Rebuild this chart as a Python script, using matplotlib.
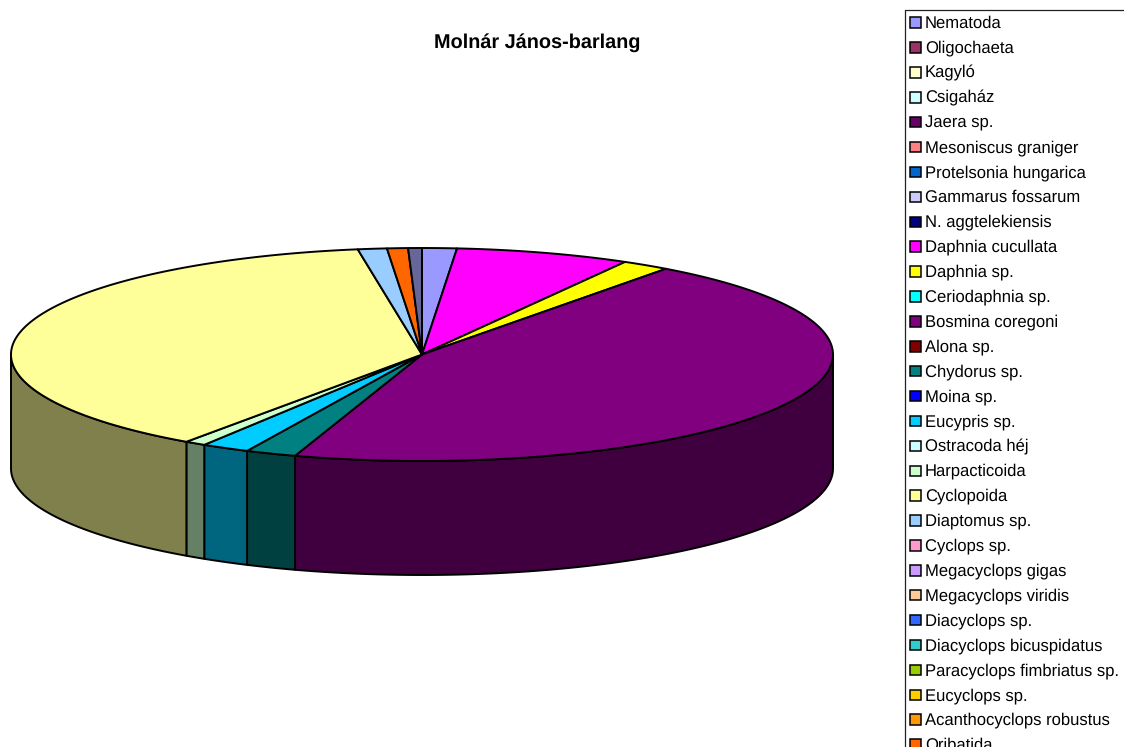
import numpy as np
import matplotlib
matplotlib.use('Agg')
import matplotlib.pyplot as plt
from matplotlib.patches import Rectangle

plt.rcParams['font.family'] = ['Liberation Sans', 'DejaVu Sans']
plt.rcParams['text.hinting'] = 'no_hinting'

names = ['Nematoda', 'Oligochaeta', 'Kagyló', 'Csigaház', 'Jaera sp.',
         'Mesoniscus graniger', 'Protelsonia hungarica', 'Gammarus fossarum',
         'N. aggtelekiensis', 'Daphnia cucullata', 'Daphnia sp.',
         'Ceriodaphnia sp.', 'Bosmina coregoni', 'Alona sp.', 'Chydorus sp.',
         'Moina sp.', 'Eucypris sp.', 'Ostracoda héj', 'Harpacticoida',
         'Cyclopoida', 'Diaptomus sp.', 'Cyclops sp.', 'Megacyclops gigas',
         'Megacyclops viridis', 'Diacyclops sp.', 'Diacyclops bicuspidatus',
         'Paracyclops fimbriatus sp.', 'Eucyclops sp.', 'Acanthocyclops robustus',
         'Oribatida', '']
values = [1.36, 0, 0, 0, 0,
          0, 0, 0,
          0, 6.87, 1.89,
          0, 44.9, 0, 2.0,
          0, 1.89, 0, 0.83,
          37.8, 1.14, 0, 0,
          0, 0, 0,
          0, 0, 0,
          0.82, 0.54]
colors = ['#9999FF', '#993366', '#FFFFCC', '#CCFFFF', '#660066',
          '#FF8080', '#0066CC', '#CCCCFF', '#000080', '#FF00FF', '#FFFF00',
          '#00FFFF', '#800080', '#800000', '#008080', '#0000FF', '#00CCFF',
          '#CCFFFF', '#CCFFCC', '#FFFF99', '#99CCFF', '#FF99CC', '#CC99FF',
          '#FFCC99', '#3366FF', '#33CCCC', '#99CC00', '#FFCC00', '#FF9900',
          '#FF6600', '#666699']

cx, cy = 422, 354.5
rx, ry = 411, 106.5
depth = 114


def rim(a):
    # a is degrees clockwise from the top of the ellipse
    t = np.radians(a)
    return cx + rx * np.sin(t), cy - ry * np.cos(t)


def shade(c):
    r, g, b = matplotlib.colors.to_rgb(c)
    return (r * 0.5, g * 0.5, b * 0.5)


fig = plt.figure(figsize=(11.24, 7.47), dpi=100)
ax = fig.add_axes([0, 0, 1, 1])
ax.set_xlim(0, 1124)
ax.set_ylim(747, 0)
ax.axis('off')

total = sum(values)
edges = np.concatenate([[0], np.cumsum(values)]) / total * 360

# side wall first, only the front half of the disc shows
for i, v in enumerate(values):
    if v == 0:
        continue
    a0, a1 = max(edges[i], 90), min(edges[i + 1], 270)
    if a1 <= a0:
        continue
    x, y = rim(np.linspace(a0, a1, 100))
    ax.fill(np.r_[x, x[::-1]], np.r_[y, y[::-1] + depth],
            facecolor=shade(colors[i]), edgecolor='black', lw=1.4, joinstyle='round')

# top of the disc
for i, v in enumerate(values):
    if v == 0:
        continue
    x, y = rim(np.linspace(edges[i], edges[i + 1], 150))
    ax.fill(np.r_[cx, x], np.r_[cy, y], facecolor=colors[i],
            edgecolor='black', lw=1.4, joinstyle='round')

ax.text(537.5, 43, 'Molnár János-barlang', fontsize=14.3, fontweight='bold',
        ha='center', va='center', color='black')

# legend box runs off the right and bottom of the picture
ax.plot([1124, 905, 905], [10, 10, 747], color='#222222', lw=0.9, clip_on=True)

for i, name in enumerate(names):
    if not name:
        continue
    ly = 22.8 + i * 24.9
    ax.add_patch(Rectangle((910, ly - 5.5), 10.5, 10.5, facecolor=colors[i],
                           edgecolor='black', lw=1.1))
    ax.text(925, ly + 0.5, name, fontsize=11.95, va='center', ha='left', color='black')

fig.savefig('out.png', dpi=100)
